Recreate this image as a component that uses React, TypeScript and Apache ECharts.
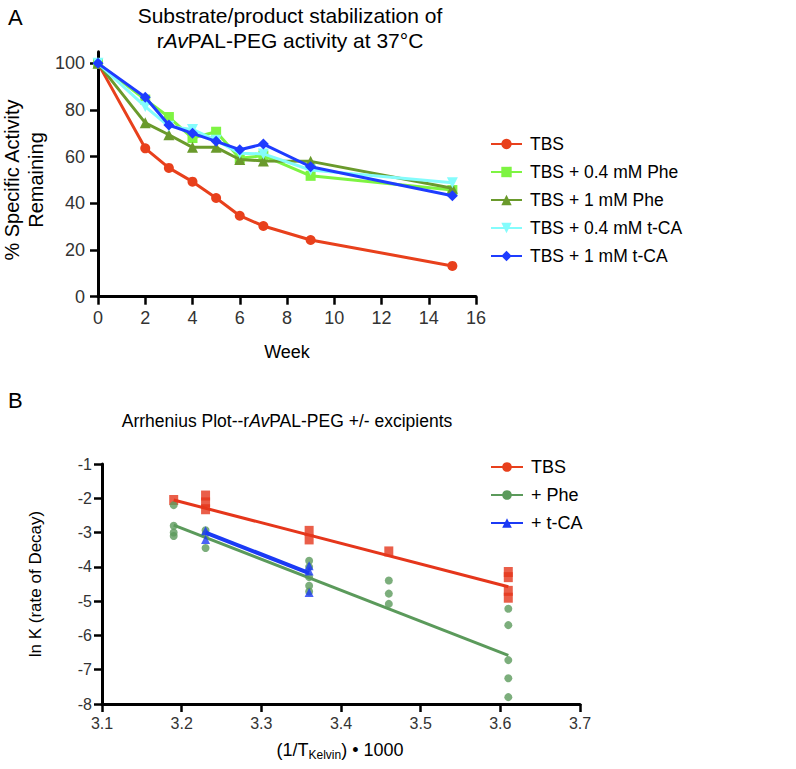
import React, { useEffect, useRef } from "react";
import * as echarts from "echarts";

// ---------- Panel A data ----------
const weeks = [0, 2, 3, 4, 5, 6, 7, 9, 15];
const tbsA = [100, 63.6, 55.2, 49.3, 42.3, 34.7, 30.3, 24.3, 13.2];
const phe04 = [100, 84.5, 77, 68, 70.7, 59.3, 60.5, 51.8, 45.7];
const phe1 = [100, 74.5, 69.4, 64, 64, 58.8, 58.2, 58, 46.5];
const tca04 = [100, 81.5, 73, 71.7, 67, 61.5, 61.2, 54.3, 48.8];
const tca1 = [100, 85.5, 73.6, 70, 66.6, 63, 65.4, 55.7, 43.3];
const namesA = ["TBS", "TBS + 0.4 mM Phe", "TBS + 1 mM Phe", "TBS + 0.4 mM t-CA", "TBS + 1 mM t-CA"];
const ticksA_y = [0, 20, 40, 60, 80, 100];

// ---------- Panel B data ----------
const tbsX = [3.19, 3.23, 3.23, 3.23, 3.36, 3.36, 3.46, 3.61, 3.61, 3.61, 3.61];
const tbsLnK = [-2.05, -1.92, -2.12, -2.32, -2.95, -3.2, -3.55, -4.15, -4.3, -4.7, -4.9];
const pheX = [3.19, 3.19, 3.19, 3.19, 3.23, 3.23, 3.23, 3.36, 3.36, 3.36, 3.36, 3.36, 3.46, 3.46, 3.46, 3.61, 3.61, 3.61, 3.61, 3.61];
const pheLnK = [-2.2, -2.8, -3.0, -3.1, -2.93, -3.05, -3.45, -3.82, -4.0, -4.3, -4.55, -4.72, -4.4, -4.78, -5.08, -5.22, -5.7, -6.72, -7.25, -7.8];
const tcaX = [3.23, 3.23, 3.36, 3.36, 3.36];
const tcaLnK = [-2.95, -3.2, -3.97, -4.12, -4.75];
const tbsFitX = [3.19, 3.61];
const tbsFitY = [-2.05, -4.58];
const pheFitX = [3.19, 3.61];
const pheFitY = [-2.78, -6.58];
const tcaFitX = [3.23, 3.36];
const tcaFitY = [-3.0, -4.18];
const namesB = ["TBS", "+ Phe", "+ t-CA"];

const SANS = "'Liberation Sans', Arial, Helvetica, sans-serif";
const NARROW = "'Liberation Sans Narrow', 'Liberation Sans', Arial, sans-serif";

const zip = (xs: number[], ys: number[]) => xs.map((x, i) => [x, ys[i]]);

export default function App() {
  const ref = useRef<HTMLDivElement>(null);
  useEffect(() => {
    if (!ref.current) return;
    const chart = echarts.init(ref.current, undefined, { renderer: "svg" });

    const axisCommon = (fontSize: number, family: string, margin: number) => ({
      axisLine: { onZero: false, lineStyle: { color: "#000", width: 3 } },
      axisTick: { show: true, length: 8, lineStyle: { color: "#000", width: 2.5 } },
      axisLabel: { fontSize, fontFamily: family, color: "#333", margin },
      splitLine: { show: false },
    });

    const colorsA = ["#E8401C", "#7EF442", "#6A9A2C", "#84FCFC", "#1E3CFF"];
    const symbolsA = ["circle", "rect", "triangle", "triangle", "diamond"];
    const sizesA = [10, 10, 11, 11, 11];
    const rotA = [0, 0, 0, 180, 0];
    const dataA = [tbsA, phe04, phe1, tca04, tca1];

    const seriesA = namesA.map((name, k) => ({
      name,
      type: "line",
      xAxisIndex: 0,
      yAxisIndex: 0,
      data: zip(weeks, dataA[k]),
      symbol: symbolsA[k],
      symbolSize: sizesA[k],
      symbolRotate: rotA[k],
      showSymbol: true,
      lineStyle: { width: 3, color: colorsA[k] },
      itemStyle: { color: colorsA[k] },
      emphasis: { disabled: true },
      z: 2 + k,
    }));

    const red = "#E5361B";
    const green = "#5B9A5B";
    const blue = "#1B3AF5";

    const seriesB = [
      {
        name: "TBS", type: "line", xAxisIndex: 1, yAxisIndex: 1,
        data: zip(tbsFitX, tbsFitY), symbol: "rect", showSymbol: false,
        lineStyle: { width: 3, color: red }, itemStyle: { color: red }, emphasis: { disabled: true }, z: 3,
      },
      {
        name: "+ Phe", type: "line", xAxisIndex: 1, yAxisIndex: 1,
        data: zip(pheFitX, pheFitY), symbol: "circle", showSymbol: false,
        lineStyle: { width: 3, color: green }, itemStyle: { color: green }, emphasis: { disabled: true }, z: 3,
      },
      {
        name: "+ t-CA", type: "line", xAxisIndex: 1, yAxisIndex: 1,
        data: zip(tcaFitX, tcaFitY), symbol: "triangle", showSymbol: false,
        lineStyle: { width: 4, color: blue }, itemStyle: { color: blue }, emphasis: { disabled: true }, z: 4,
      },
      {
        name: "TBS pts", type: "scatter", xAxisIndex: 1, yAxisIndex: 1,
        data: zip(tbsX, tbsLnK), symbol: "rect", symbolSize: [9, 10],
        itemStyle: { color: red }, emphasis: { disabled: true }, z: 2,
      },
      {
        name: "Phe pts", type: "scatter", xAxisIndex: 1, yAxisIndex: 1,
        data: zip(pheX, pheLnK), symbol: "circle", symbolSize: 8,
        itemStyle: { color: green }, emphasis: { disabled: true }, z: 2,
      },
      {
        name: "tCA pts", type: "scatter", xAxisIndex: 1, yAxisIndex: 1,
        data: zip(tcaX, tcaLnK), symbol: "triangle", symbolSize: 9,
        itemStyle: { color: blue }, emphasis: { disabled: true }, z: 5,
      },
    ];

    const option: any = {
      animation: false,
      backgroundColor: "#fff",
      textStyle: { fontFamily: SANS },
      grid: [
        { left: 98, top: 51.7, width: 378, height: 245 },
        { left: 102, top: 464, width: 478, height: 240 },
      ],
      xAxis: [
        {
          type: "value", gridIndex: 0, min: 0, max: 16, interval: 2,
          ...axisCommon(18, SANS, 12),
        },
        {
          type: "value", gridIndex: 1, min: 3.1, max: 3.7, interval: 0.1,
          ...axisCommon(16, NARROW, 11),
        },
      ],
      yAxis: [
        (() => {
          const c: any = axisCommon(18, SANS, 13);
          c.axisTick.customValues = ticksA_y;
          c.axisLabel.customValues = ticksA_y;
          return { type: "value", gridIndex: 0, min: 0, max: 105, interval: 20, ...c };
        })(),
        {
          type: "value", gridIndex: 1, min: -8, max: -1, interval: 1,
          ...axisCommon(16, NARROW, 10),
        },
      ],
      legend: [
        {
          data: namesA, orient: "vertical", left: 485, top: 130,
          itemWidth: 31, itemHeight: 13, itemGap: 10, selectedMode: false,
          textStyle: { fontSize: 17.5, lineHeight: 18, color: "#000", fontFamily: SANS, padding: [0, 0, 0, 3] },
        },
        {
          data: namesB, orient: "vertical", left: 485, top: 453,
          itemWidth: 32, itemHeight: 12, itemGap: 10, selectedMode: false,
          textStyle: { fontSize: 18, lineHeight: 18, color: "#000", fontFamily: SANS, padding: [0, 0, 0, 3] },
        },
      ],
      graphic: [
        { type: "text", x: 8, y: 6, style: { text: "A", fontSize: 22, fontFamily: SANS, fill: "#000" } },
        {
          type: "text", x: 290, y: 15,
          style: { text: "Substrate/product stabilization of", fontSize: 21, fontFamily: SANS, fill: "#000", align: "center", verticalAlign: "middle" },
        },
        {
          type: "text", x: 290, y: 40,
          style: {
            text: "r{i|Av}PAL-PEG activity at 37°C", fontSize: 21, fontFamily: SANS, fill: "#000", align: "center", verticalAlign: "middle",
            rich: { i: { fontStyle: "italic", fontSize: 21, fontFamily: SANS, fill: "#000" } },
          },
        },
        {
          type: "text", x: 24, y: 180, rotation: Math.PI / 2,
          style: { text: "% Specific Activity\nRemaining", fontSize: 20, lineHeight: 24, fontFamily: SANS, fill: "#000", align: "center", verticalAlign: "middle" },
        },
        {
          type: "text", x: 287, y: 352,
          style: { text: "Week", fontSize: 18, fontFamily: SANS, fill: "#000", align: "center", verticalAlign: "middle" },
        },
        { type: "text", x: 8, y: 389, style: { text: "B", fontSize: 22, fontFamily: SANS, fill: "#000" } },
        {
          type: "text", x: 287, y: 421,
          style: {
            text: "Arrhenius Plot--r{i|Av}PAL-PEG +/- excipients", fontSize: 17.5, fontFamily: SANS, fill: "#000", align: "center", verticalAlign: "middle",
            rich: { i: { fontStyle: "italic", fontSize: 17.5, fontFamily: SANS, fill: "#000" } },
          },
        },
        {
          type: "text", x: 35, y: 584, rotation: Math.PI / 2,
          style: { text: "ln K (rate of Decay)", fontSize: 17, fontFamily: SANS, fill: "#000", align: "center", verticalAlign: "middle" },
        },
        {
          type: "text", x: 340, y: 750,
          style: {
            text: "(1/T{s|Kelvin}) • 1000", fontSize: 18, lineHeight: 22, fontFamily: NARROW, fill: "#000", align: "center", verticalAlign: "middle",
            rich: { s: { fontSize: 12, lineHeight: 12, verticalAlign: "bottom", fontFamily: NARROW, fill: "#000" } },
          },
        },
      ],
      series: [...seriesA, ...seriesB],
    };

    chart.setOption(option);
    return () => chart.dispose();
  }, []);

  return <div ref={ref} style={{ position: "absolute", left: 0, top: 0, width: 796, height: 769 }} />;
}
